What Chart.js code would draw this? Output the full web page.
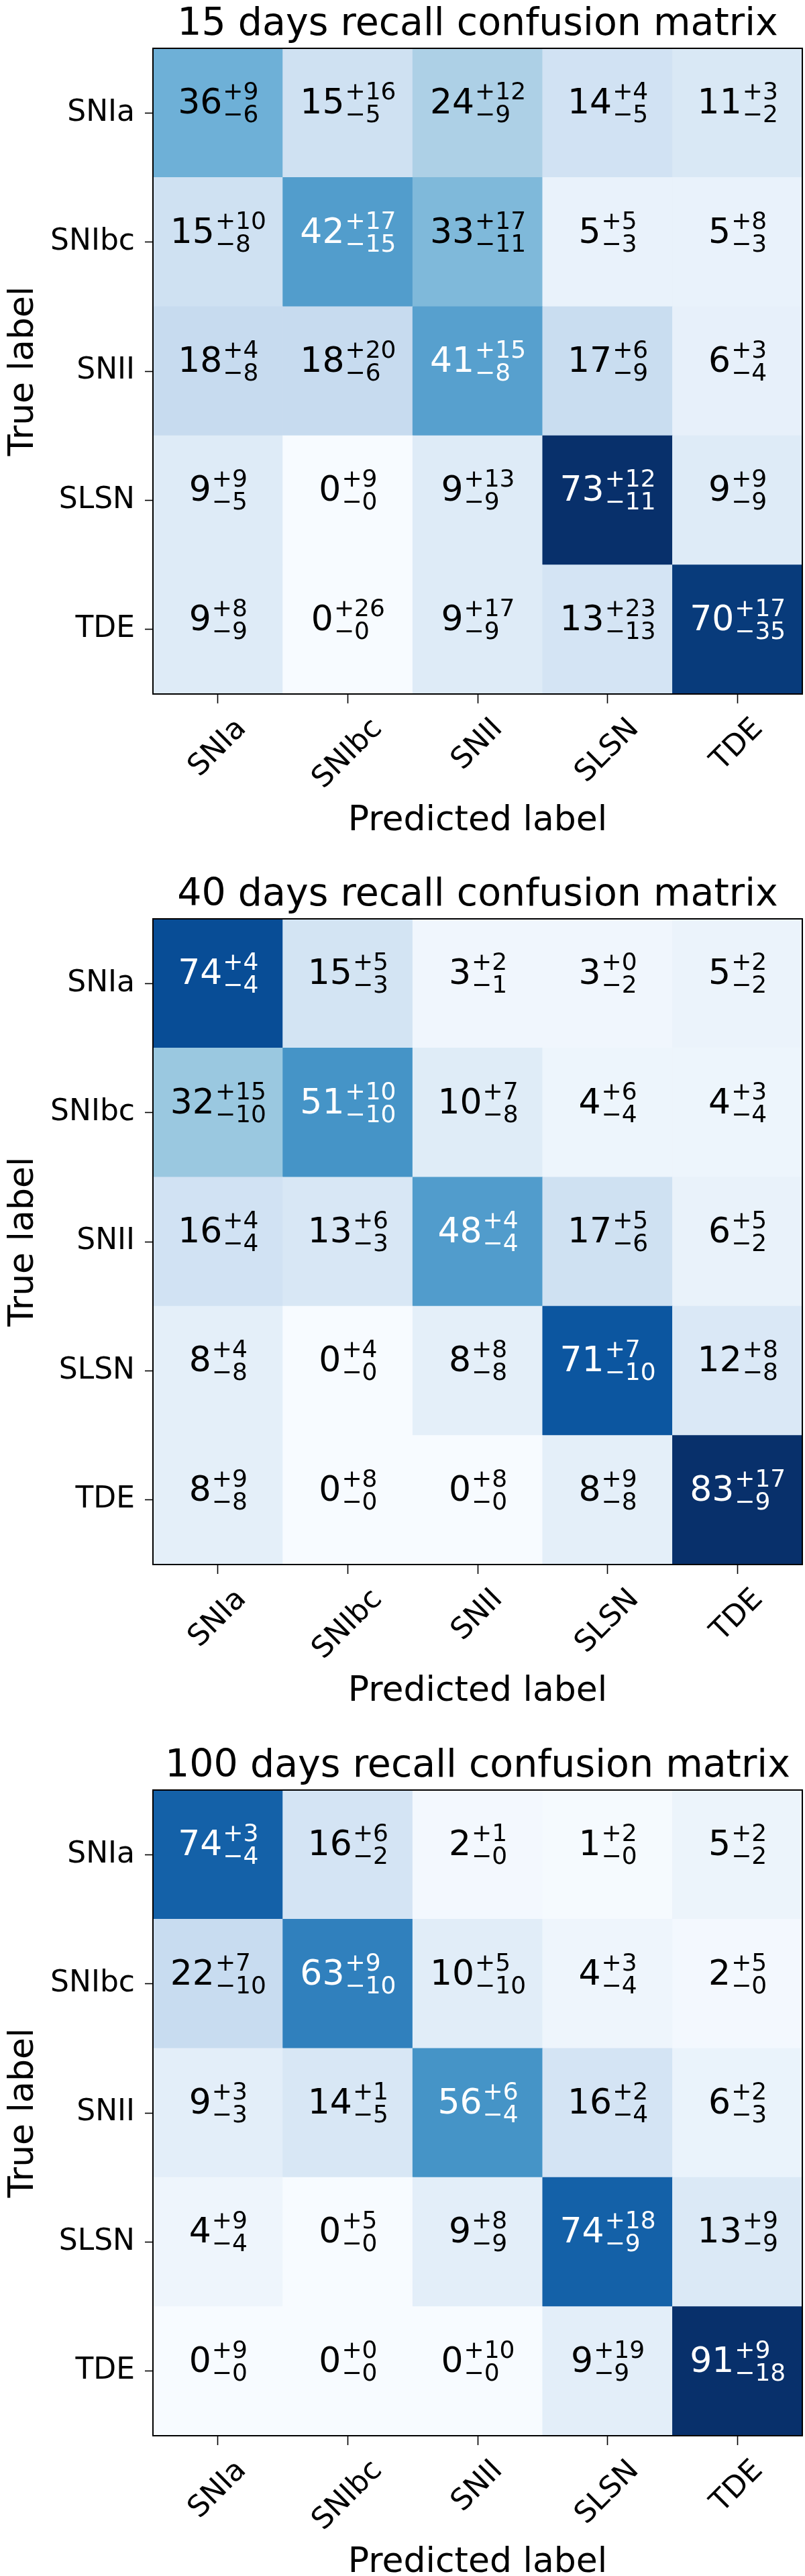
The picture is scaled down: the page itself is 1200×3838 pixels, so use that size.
<!DOCTYPE html>
<html>
<head>
<meta charset="utf-8">
<script src="https://cdn.jsdelivr.net/npm/chart.js@4.4.0/dist/chart.umd.min.js"></script>
<style>
  body { margin: 0; background: #fff; }
  canvas { display: block; }
</style>
</head>
<body>
<canvas id="cm15" width="1200" height="1297"></canvas>
<canvas id="cm40" width="1200" height="1298"></canvas>
<canvas id="cm100" width="1200" height="1243"></canvas>
<script>
const classNames = ['SNIa', 'SNIbc', 'SNII', 'SLSN', 'TDE'];

// 15 days: recall (%) with upper / lower errors, rows = true label
const recall15 = [[36, 15, 24, 14, 11], [15, 42, 33, 5, 5], [18, 18, 41, 17, 6], [9, 0, 9, 73, 9], [9, 0, 9, 13, 70]];
const upper15  = [[9, 16, 12, 4, 3], [10, 17, 17, 5, 8], [4, 20, 15, 6, 3], [9, 9, 13, 12, 9], [8, 26, 17, 23, 17]];
const lower15  = [[6, 5, 9, 5, 2], [8, 15, 11, 3, 3], [8, 6, 8, 9, 4], [5, 0, 9, 11, 9], [9, 0, 9, 13, 35]];

// 40 days
const recall40 = [[74, 15, 3, 3, 5], [32, 51, 10, 4, 4], [16, 13, 48, 17, 6], [8, 0, 8, 71, 12], [8, 0, 0, 8, 83]];
const upper40  = [[4, 5, 2, 0, 2], [15, 10, 7, 6, 3], [4, 6, 4, 5, 5], [4, 4, 8, 7, 8], [9, 8, 8, 9, 17]];
const lower40  = [[4, 3, 1, 2, 2], [10, 10, 8, 4, 4], [4, 3, 4, 6, 2], [8, 0, 8, 10, 8], [8, 0, 0, 8, 9]];

// 100 days
const recall100 = [[74, 16, 2, 1, 5], [22, 63, 10, 4, 2], [9, 14, 56, 16, 6], [4, 0, 9, 74, 13], [0, 0, 0, 9, 91]];
const upper100  = [[3, 6, 1, 2, 2], [7, 9, 5, 3, 5], [3, 1, 6, 2, 2], [9, 5, 8, 18, 9], [9, 0, 10, 19, 9]];
const lower100  = [[4, 2, 0, 0, 2], [10, 10, 10, 4, 0], [3, 5, 4, 4, 3], [4, 0, 9, 9, 9], [0, 0, 0, 9, 18]];

// matplotlib "Blues"
const blues = ['#f7fbff', '#deebf7', '#c6dbef', '#9ecae1', '#6baed6', '#4292c6', '#2171b5', '#08519c', '#08306b'];

function hexToRgb(h) {
    return [parseInt(h.slice(1, 3), 16), parseInt(h.slice(3, 5), 16), parseInt(h.slice(5, 7), 16)];
}

function bluesColor(t) {
    t = Math.max(0, Math.min(1, t));
    const pos = t * (blues.length - 1);
    const i = Math.min(Math.floor(pos), blues.length - 2);
    const f = pos - i;
    const a = hexToRgb(blues[i]), b = hexToRgb(blues[i + 1]);
    const c = a.map((v, k) => Math.round(v + (b[k] - v) * f));
    return `rgb(${c[0]}, ${c[1]}, ${c[2]})`;
}

const FONT = '"DejaVu Sans"';
Chart.defaults.font.family = FONT;
Chart.defaults.color = '#000';

// titles, cell annotations, axis titles, rotated x labels and the frame
const matrixText = {
    id: 'matrixText',
    afterDraw(chart, args, opts) {
        const ctx = chart.ctx;
        const area = chart.chartArea;
        const xs = chart.scales.x, ys = chart.scales.y;
        const thresh = opts.vmax / 2;
        ctx.save();

        // cell text
        opts.recall.forEach((row, i) => row.forEach((v, j) => {
            const cx = xs.getPixelForValue(j);
            const cy = ys.getPixelForValue(i);
            const main = String(v);
            const sup = '+' + opts.upper[i][j];
            const sub = '\u2212' + opts.lower[i][j];
            ctx.font = '52px ' + FONT;
            const mw = ctx.measureText(main).width;
            ctx.font = '36px ' + FONT;
            const sw = Math.max(ctx.measureText(sup).width, ctx.measureText(sub).width);
            const left = cx - (mw + sw) / 2;
            const base = cy + 1;
            ctx.fillStyle = v > thresh ? '#fff' : '#000';
            ctx.textAlign = 'left';
            ctx.textBaseline = 'alphabetic';
            ctx.font = '52px ' + FONT;
            ctx.fillText(main, left, base);
            ctx.font = '36px ' + FONT;
            ctx.fillText(sup, left + mw + 1, base - 21);
            ctx.fillText(sub, left + mw + 1, base + 13);
        }));

        // frame
        ctx.strokeStyle = '#000';
        ctx.lineWidth = 2;
        ctx.strokeRect(area.left, area.top, area.right - area.left, area.bottom - area.top);

        ctx.fillStyle = '#000';
        const midX = (area.left + area.right) / 2;
        const midY = (area.top + area.bottom) / 2;

        // title
        ctx.textAlign = 'center';
        ctx.textBaseline = 'alphabetic';
        ctx.font = '57px ' + FONT;
        ctx.fillText(opts.title, midX, area.top - 20);

        // axis titles
        ctx.font = '52px ' + FONT;
        ctx.fillText('Predicted label', midX, area.bottom + 203);
        ctx.save();
        ctx.translate(49, midY);
        ctx.rotate(-Math.PI / 2);
        ctx.fillText('True label', 0, 0);
        ctx.restore();

        // rotated x tick labels, centred under each tick
        ctx.font = '44px ' + FONT;
        ctx.textBaseline = 'middle';
        classNames.forEach((name, j) => {
            const w = ctx.measureText(name).width;
            const h = 51;
            const cx = xs.getPixelForValue(j);
            const cy = area.bottom + 27 + (w + h) / (2 * Math.SQRT2);
            ctx.save();
            ctx.translate(cx, cy);
            ctx.rotate(-Math.PI / 4);
            ctx.fillText(name, 0, 0);
            ctx.restore();
        });

        ctx.restore();
    }
};

function makeMatrix(canvasId, title, recall, upper, lower) {
    const flat = recall.flat();
    const vmax = Math.max(...flat);
    const vmin = Math.min(...flat);
    const canvas = document.getElementById(canvasId);
    const H = canvas.height;

    const points = [];
    const colors = [];
    recall.forEach((row, i) => row.forEach((v, j) => {
        points.push({ x: classNames[j], y: [i - 0.5, i + 0.5] });
        colors.push(bluesColor((v - vmin) / (vmax - vmin)));
    }));

    return new Chart(canvas.getContext('2d'), {
        type: 'bar',
        data: {
            labels: classNames,
            datasets: [{
                data: points,
                backgroundColor: colors,
                borderWidth: 0,
                barPercentage: 1,
                categoryPercentage: 1
            }]
        },
        options: {
            responsive: false,
            animation: false,
            layout: { padding: { top: 72, right: 4, left: 0, bottom: 0 } },
            plugins: {
                legend: { display: false },
                tooltip: { enabled: false },
                title: { display: false },
                matrixText: { title, recall, upper, lower, vmax }
            },
            scales: {
                x: {
                    type: 'category',
                    offset: true,
                    grid: { offset: false, drawOnChartArea: false, tickLength: 14, tickColor: '#000', tickWidth: 1.6 },
                    border: { display: false },
                    ticks: { display: false },
                    afterFit: (scale) => { scale.height = H - 1034; }
                },
                y: {
                    type: 'linear',
                    reverse: true,
                    min: -0.5,
                    max: 4.5,
                    afterBuildTicks: (scale) => { scale.ticks = [0, 1, 2, 3, 4].map(v => ({ value: v })); },
                    grid: { drawOnChartArea: false, tickLength: 12, tickColor: '#000', tickWidth: 1.6 },
                    border: { display: false },
                    ticks: {
                        padding: 15,
                        color: '#000',
                        font: { size: 44, family: FONT },
                        callback: (v) => classNames[v]
                    },
                    afterFit: (scale) => { scale.width = 228; }
                }
            }
        },
        plugins: [matrixText]
    });
}

makeMatrix('cm15', '15 days recall confusion matrix', recall15, upper15, lower15);
makeMatrix('cm40', '40 days recall confusion matrix', recall40, upper40, lower40);
makeMatrix('cm100', '100 days recall confusion matrix', recall100, upper100, lower100);
</script>
</body>
</html>
